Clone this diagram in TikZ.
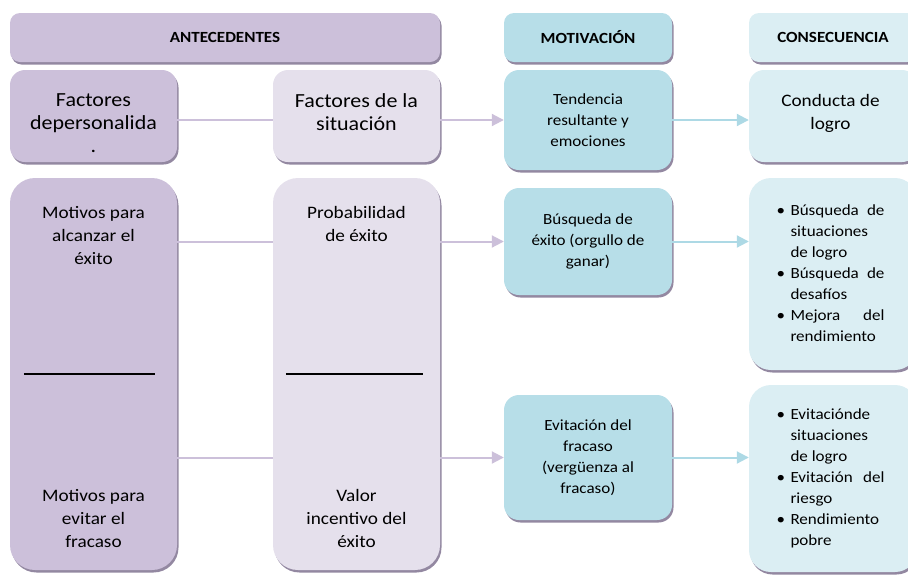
\documentclass[tikz,border=0pt]{standalone}
\usepackage{fontspec}
\setmainfont{Carlito}[FakeStretch=1.1]
\usetikzlibrary{positioning, arrows.meta, shadows}
\usepackage{xcolor}
\definecolor{AntLila}{HTML}{CCC0DA}
\definecolor{AntClaro}{HTML}{E5E0EC}
\definecolor{MotAzul}{HTML}{B7DEE8}
\definecolor{ConAzul}{HTML}{DBEEF3}
\definecolor{SombraLila}{HTML}{6F6082}
\definecolor{LineaAzul}{HTML}{ADD9E5}
\newcommand{\vin}{\makebox[14pt][l]{\textbullet}}
\newcommand{\just}[1]{\makebox[94pt][s]{#1}}

\begin{document}
\begin{tikzpicture}[x=1pt, y=-1pt,
    caja/.style={rounded corners=15pt, inner sep=0pt, align=center, text=black,
      drop shadow={shadow xshift=1.5pt, shadow yshift=-2.5pt, fill=SombraLila, opacity=0.75}},
    titulo/.style={caja, rounded corners=10pt, minimum height=49pt, font=\fontsize{15.5}{19}\selectfont\bfseries},
    grande/.style={inner sep=0pt, align=center, text=black, font=\fontsize{20}{23}\selectfont},
    media/.style={inner sep=0pt, align=center, text=black, font=\fontsize{17.5}{23}\selectfont},
    chica/.style={inner sep=0pt, align=center, text=black, font=\fontsize{15.5}{21}\selectfont},
    linea/.style={draw=AntLila, line width=2pt},
    flecha/.style={linea, -{Triangle[length=12pt, width=12pt]}},
    flechaazul/.style={flecha, draw=LineaAzul}]
  \useasboundingbox (0,0) rectangle (908,574);
  \clip (0,0) rectangle (908,574);

  % Encabezados
  \node[titulo, fill=AntLila, minimum width=430pt] (hant) at (225,37.5) {ANTECEDENTES};
  \node[titulo, fill=MotAzul, minimum width=168pt] (hmot) at (588,37.5) {MOTIVACIÓN};
  \node[titulo, fill=ConAzul, minimum width=168pt] (hcon) at (833,37.5) {CONSECUENCIA};

  % Fila superior
  \node[caja, fill=AntLila, minimum width=167pt, minimum height=92pt] (fper) at (93.5,116) {};
  \node[grande] (fpertxt) at ([yshift=-7pt]fper.center) {Factores\\depersonalida\\.};
  \node[caja, fill=AntClaro, minimum width=167pt, minimum height=92pt] (fsit) at (356.5,116) {};
  \node[grande] (fsittxt) at ([yshift=4pt]fsit.center) {Factores de la\\situación};
  \node[caja, chica, fill=MotAzul, minimum width=168pt, minimum height=100pt] (tend) at (588,120) {Tendencia\\resultante y\\emociones};
  \node[caja, fill=ConAzul, minimum width=168pt, minimum height=92pt] (cond) at (833,116) {};
  \node[media] (condtxt) at ([xshift=-2.5pt, yshift=3pt]cond.center) {Conducta de\\logro};

  % Columnas de antecedentes
  \node[caja, fill=AntLila, rounded corners=25pt, minimum width=167pt, minimum height=392pt] (motivos) at (93.5,374) {};
  \node[media, below=28pt of motivos.north] (motexito) {Motivos para\\alcanzar el\\éxito};
  \node[media, above=22pt of motivos.south] (motfracaso) {Motivos para\\evitar el\\fracaso};
  \draw[black, line width=1.2pt] ([xshift=14pt]motivos.west) -- ([xshift=-22pt]motivos.east);

  \node[caja, fill=AntClaro, rounded corners=25pt, minimum width=167pt, minimum height=392pt] (prob) at (356.5,374) {};
  \node[media, below=28pt of prob.north] (probexito) {Probabilidad\\de éxito};
  \node[media, above=22pt of prob.south] (valor) {Valor\\incentivo del\\éxito};
  \draw[black, line width=1.2pt] ([xshift=13pt]prob.west) -- ([xshift=-17pt]prob.east);

  % Motivacion
  \node[caja, chica, fill=MotAzul, minimum width=168pt, minimum height=107pt] (busq) at (588,241.5) {Búsqueda de\\éxito (orgullo de\\ganar)};
  \node[caja, chica, fill=MotAzul, minimum width=168pt, minimum height=125pt] (evit) at (588,457.5) {Evitación del\\fracaso\\(vergüenza al\\fracaso)};

  % Consecuencias
  \node[caja, fill=ConAzul, rounded corners=22pt, minimum width=168pt, minimum height=192pt] (cons1) at (833,274) {};
  \node[chica] (cons1txt) at ([xshift=-2.5pt]cons1.center) {%
    \begin{tabular}{@{}l@{}l@{}}
      \vin & \just{Búsqueda de}\\
           & situaciones\\
           & de logro\\
      \vin & \just{Búsqueda de}\\
           & desafíos\\
      \vin & \just{Mejora del}\\
           & rendimiento
    \end{tabular}};
  \node[caja, fill=ConAzul, rounded corners=22pt, minimum width=168pt, minimum height=187pt] (cons2) at (833,478.5) {};
  \node[chica] (cons2txt) at ([xshift=-2.5pt]cons2.center) {%
    \begin{tabular}{@{}l@{}l@{}}
      \vin & Evitaciónde\\
           & situaciones\\
           & de logro\\
      \vin & \just{Evitación del}\\
           & riesgo\\
      \vin & Rendimiento\\
           & pobre
    \end{tabular}};

  % Conectores
  \draw[linea] (fper.east |- tend.west) -- (fsit.west |- tend.west);
  \draw[flecha] (fsit.east |- tend.west) -- (tend.west);
  \draw[flechaazul] (tend.east) -- (tend.east -| cond.west);

  \draw[linea] (motivos.east |- busq.west) -- (prob.west |- busq.west);
  \draw[flecha] (prob.east |- busq.west) -- (busq.west);
  \draw[flechaazul] (busq.east) -- (busq.east -| cons1.west);

  \draw[linea] (motivos.east |- evit.west) -- (prob.west |- evit.west);
  \draw[flecha] (prob.east |- evit.west) -- (evit.west);
  \draw[flechaazul] (evit.east) -- (evit.east -| cons2.west);
\end{tikzpicture}
\end{document}
